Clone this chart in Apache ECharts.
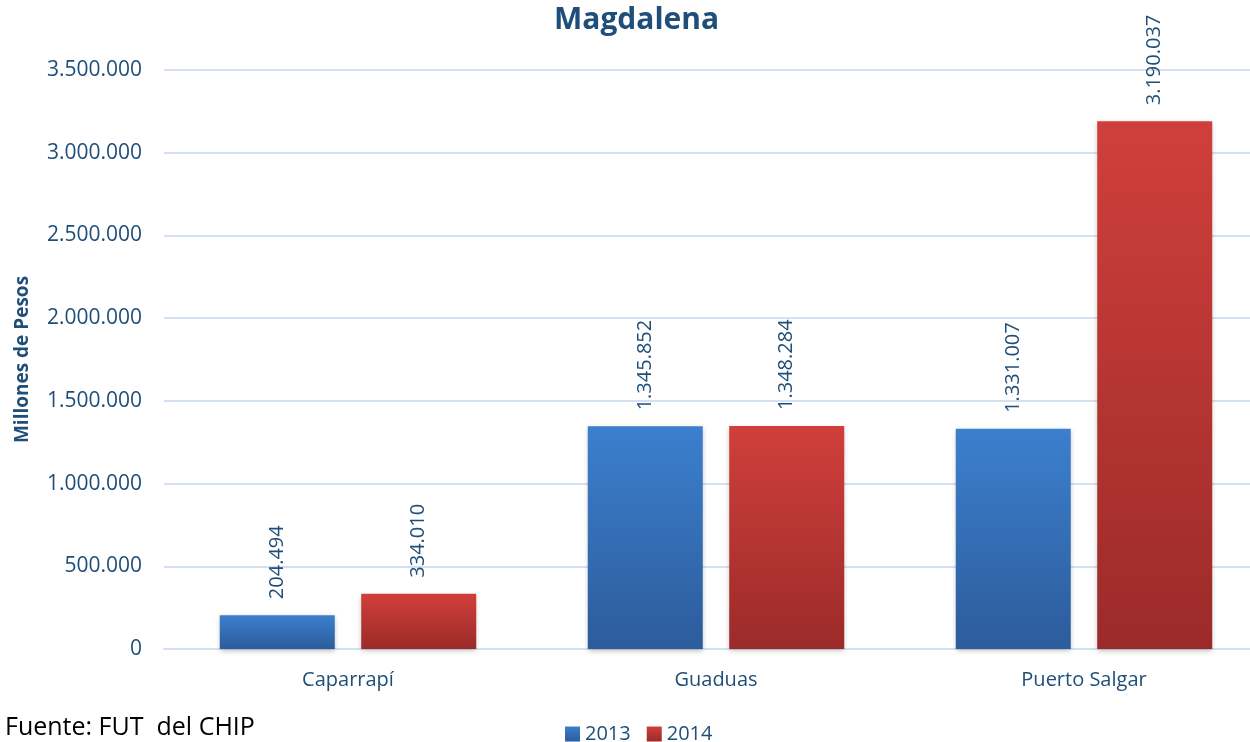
<!DOCTYPE html>
<html><head><meta charset="utf-8">
<script src="https://cdn.jsdelivr.net/npm/echarts@6/dist/echarts.min.js"></script>
<style>html,body{margin:0;padding:0;background:#fff}#c{width:1250px;height:742px}</style>
</head><body><div id="c"></div>
<script>
const categories = ["Caparrapí", "Guaduas", "Puerto Salgar"];
const years = ["2013", "2014"];
const values2013 = [204494, 1345852, 1331007];
const values2014 = [334010, 1348284, 3190037];

const FONT = "'Open Sans', 'Noto Sans', sans-serif";
const TXT = '#1F4E79';
function fmt(v){ return String(Math.round(v)).replace(/\B(?=(\d{3})+(?!\d))/g, '.'); }
function grad(top, bottom){
  return new echarts.graphic.LinearGradient(0,0,0,1,[{offset:0,color:top},{offset:1,color:bottom}]);
}
const blue = grad('#3C7FCE', '#2C5C9B');
const red = grad('#D03F3B', '#9B2B29');

const chart = echarts.init(document.getElementById('c'));
chart.setOption({
  animation:false,
  title:{text:'Magdalena', left:549, top:0, textStyle:{fontFamily:FONT, fontSize:30, fontWeight:'bold', color:TXT}},
  graphic:[{type:'text', left:5, top:715, style:{text:'Fuente: FUT  del CHIP', fontFamily:FONT, fontSize:25, fill:'#000'}}],
  legend:{bottom:-7, left:560, itemWidth:15, itemHeight:15, itemGap:16, icon:'rect',
    textStyle:{fontFamily:FONT, fontSize:20, color:TXT}},
  grid:{left:164, top:70, right:-18, bottom:93, outerBoundsMode:'none', containLabel:false},
  xAxis:{type:'category', data:categories,
    axisLine:{lineStyle:{color:'#D5E1F0', width:2}}, axisTick:{show:false},
    axisLabel:{fontFamily:FONT, fontSize:20, color:TXT, margin:21}},
  yAxis:{type:'value', min:0, max:3500000, interval:500000,
    name:'Millones de Pesos', nameLocation:'middle', nameGap:132, nameRotate:90,
    nameTextStyle:{fontFamily:FONT, fontSize:19, fontWeight:'bold', color:TXT},
    axisLabel:{fontFamily:FONT, fontSize:21, color:TXT, margin:22, formatter:fmt},
    splitLine:{lineStyle:{color:'#D5E1F0', width:2}}},
  series:[
    {name:years[0], type:'bar', data:values2013, barWidth:115, barGap:'23%',
      itemStyle:{color:blue, shadowColor:'rgba(0,0,0,0.25)', shadowBlur:5, shadowOffsetY:2},
      label:{show:true, position:'top', rotate:90, align:'left', verticalAlign:'middle', distance:16,
        fontFamily:FONT, fontSize:20, color:TXT, formatter:p=>fmt(p.value)}},
    {name:years[1], type:'bar', data:values2014, barWidth:115,
      itemStyle:{color:red, shadowColor:'rgba(0,0,0,0.25)', shadowBlur:5, shadowOffsetY:2},
      label:{show:true, position:'top', rotate:90, align:'left', verticalAlign:'middle', distance:16,
        fontFamily:FONT, fontSize:20, color:TXT, formatter:p=>fmt(p.value)}}
  ]
});
</script></body></html>
